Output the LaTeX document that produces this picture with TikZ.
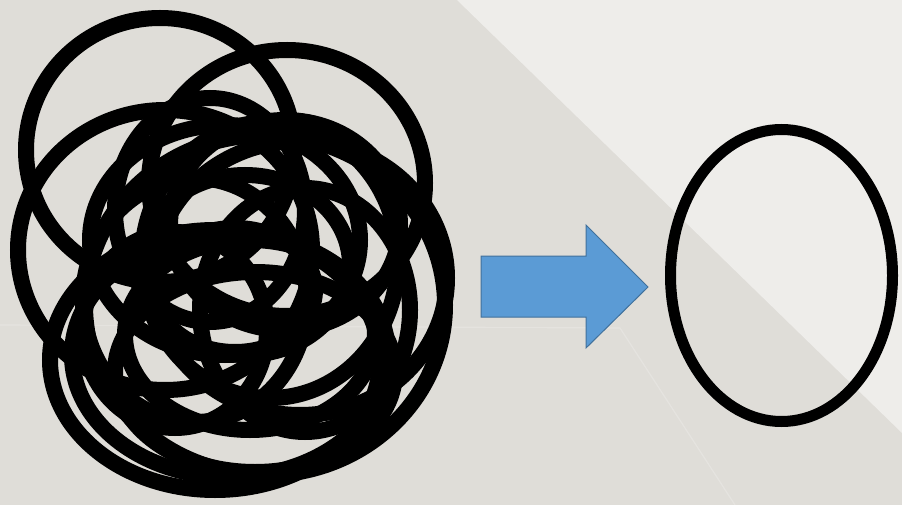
\documentclass[tikz,border=0pt]{standalone}
\begin{document}
\begin{tikzpicture}[x=1pt,y=-1pt,
  scribble/.style={draw=black,line width=16pt},
  single/.style={draw=black,line width=11pt},
  bluearrow/.style={fill=arrowblue,draw=arrowedge,line width=1pt,line join=miter}]
\definecolor{bgbase}{HTML}{DFDDD8}
\definecolor{bglight}{HTML}{EEEDEA}
\definecolor{arrowblue}{HTML}{5B9BD5}
\definecolor{arrowedge}{HTML}{41719C}
\useasboundingbox (0,0) rectangle (902,505);
% background
\fill[bgbase] (0,0) rectangle (902,505);
\fill[bglight] (457,0) -- (902,0) -- (902,433) -- cycle;
\draw[white,opacity=0.2,line width=1.2pt] (0,325) -- (620,328) -- (735,505);
% scribbled ellipses
\foreach \cx/\cy/\rx/\ry in {
  160/150/134/132, 287/183/138/133, 300/278/147/137, 165/250/147/140,
  215/360/165/130, 265/305/180/170, 245/265/105/90, 225/240/135/115,
  250/335/125/95, 195/300/112/122, 285/225/115/105, 210/210/95/112,
  255/372/140/100, 305/310/105/122, 175/330/92/98, 235/290/80/62,
  230/355/158/122, 270/260/128/138}
  \draw[scribble] (\cx,\cy) ellipse [x radius=\rx, y radius=\ry];
% arrow
\draw[bluearrow] (481,256) -- (586,256) -- (586,225) -- (648,287) -- (586,348) -- (586,317) -- (481,317) -- cycle;
% single ellipse
\draw[single] (781.5,275.5) ellipse [x radius=111, y radius=146];
\end{tikzpicture}
\end{document}
